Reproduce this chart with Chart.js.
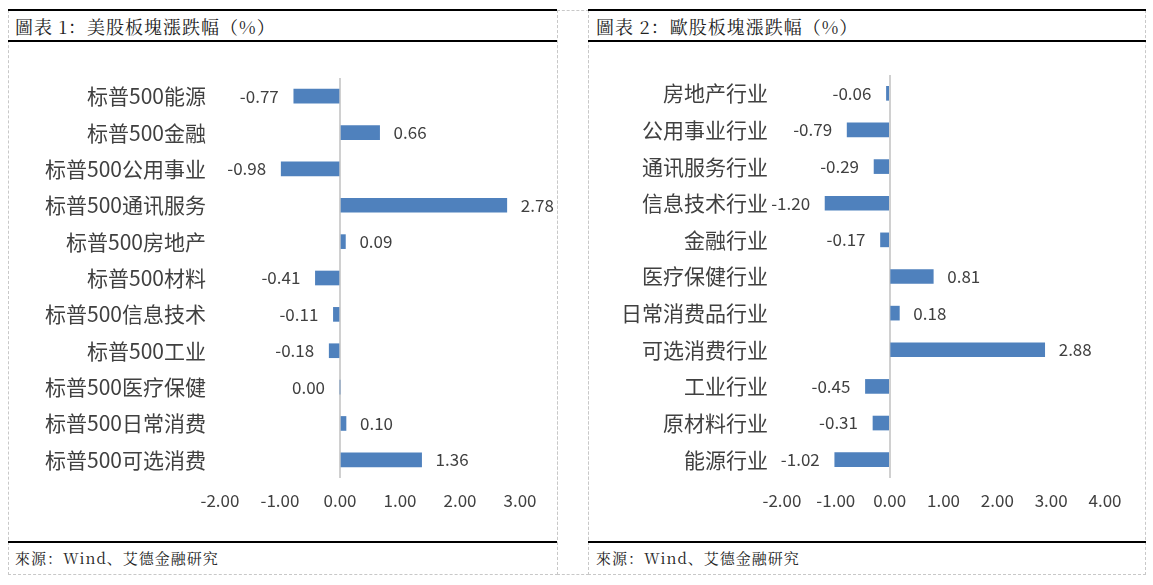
<!DOCTYPE html>
<html><head><meta charset="utf-8">
<script src="https://cdn.jsdelivr.net/npm/chart.js@4"></script>
<style>
body{margin:0;width:1153px;height:585px;background:#fff;position:relative;font-family:"Noto Sans CJK SC";overflow:hidden}
.box{position:absolute;border:1px dashed #c8c8c8;box-sizing:border-box}
.hl{position:absolute;height:2px;background:#000}
.t{position:absolute;font-family:"Noto Serif CJK SC","Noto Sans CJK SC";font-size:18px;color:#222;letter-spacing:1px}
canvas{position:absolute}
</style></head><body>
<div class="box" style="left:8px;top:10px;width:550px;height:565px"></div>
<div class="box" style="left:557px;top:10px;width:32px;height:565px"></div>
<div class="box" style="left:588px;top:10px;width:558px;height:565px"></div>
<div class="hl" style="left:8px;top:9px;width:549px"></div>
<div class="hl" style="left:8px;top:40px;width:549px"></div>
<div class="hl" style="left:8px;top:541px;width:549px"></div>
<div class="hl" style="left:588px;top:9px;width:558px"></div>
<div class="hl" style="left:588px;top:40px;width:558px"></div>
<div class="hl" style="left:588px;top:541px;width:558px"></div>
<div class="t" style="left:15px;top:13px">圖表 1：美股板塊漲跌幅（%）</div>
<div class="t" style="left:596px;top:13px">圖表 2：歐股板塊漲跌幅（%）</div>
<div class="t" style="left:15px;top:547px;font-size:15px">來源：Wind、艾德金融研究</div>
<div class="t" style="left:596px;top:547px;font-size:15px">來源：Wind、艾德金融研究</div>
<canvas id="c1" style="left:8px;top:41px"></canvas>
<canvas id="c2" style="left:588px;top:41px"></canvas>
<script>
const usCategories=["标普500能源","标普500金融","标普500公用事业","标普500通讯服务","标普500房地产","标普500材料","标普500信息技术","标普500工业","标普500医疗保健","标普500日常消费","标普500可选消费"];
const usValues=[-0.77,0.66,-0.98,2.78,0.09,-0.41,-0.11,-0.18,0.00,0.10,1.36];
const usTicks=[-2,-1,0,1,2,3];
const euCategories=["房地产行业","公用事业行业","通讯服务行业","信息技术行业","金融行业","医疗保健行业","日常消费品行业","可选消费行业","工业行业","原材料行业","能源行业"];
const euValues=[-0.06,-0.79,-0.29,-1.20,-0.17,0.81,0.18,2.88,-0.45,-0.31,-1.02];
const euTicks=[-2,-1,0,1,2,3,4];

const labelPlugin={id:'lbl',afterDatasetsDraw(ch){
  const ctx=ch.ctx,meta=ch.getDatasetMeta(0),xs=ch.scales.x;
  ctx.save();ctx.font='17px "Noto Sans CJK SC"';ctx.fillStyle='#404040';ctx.textBaseline='middle';
  meta.data.forEach((b,i)=>{const v=ch.data.datasets[0].data[i];
    if(v>0){ctx.textAlign='left';ctx.fillText(v.toFixed(2),b.x+14,b.y);}
    else{ctx.textAlign='right';ctx.fillText(v.toFixed(2),Math.min(b.x,xs.getPixelForValue(0))-15,b.y);}
  });ctx.restore();}};

function make(id,w,h,cats,vals,ticks,yw,top,right){
  const cv=document.getElementById(id);cv.width=w;cv.height=h;cv.style.width=w+'px';cv.style.height=h+'px';
  new Chart(cv,{type:'bar',data:{labels:cats,datasets:[{data:vals,backgroundColor:'#4f81bd',barThickness:14}]},
   options:{indexAxis:'y',responsive:false,animation:false,devicePixelRatio:1,
    layout:{padding:{top:top,right:right,left:0,bottom:0}},
    plugins:{legend:{display:false},tooltip:{enabled:false}},
    scales:{
     x:{min:ticks[0],max:ticks[ticks.length-1],afterBuildTicks:s=>{s.ticks=ticks.map(v=>({value:v}));},
        afterFit:s=>{s.height=64;},
        grid:{drawTicks:false,color:c=>c.tick&&c.tick.value===0?'#d0d0d0':'rgba(0,0,0,0)',lineWidth:2},
        border:{display:false},
        ticks:{padding:12,maxRotation:0,color:'#404040',font:{size:17,family:'Noto Sans CJK SC'},callback:v=>Number(v).toFixed(2)}},
     y:{afterFit:s=>{s.width=yw;},grid:{display:false},border:{display:false},
        ticks:{padding:6,color:'#404040',font:{size:21,family:'Noto Sans CJK SC'}}}
    }},plugins:[labelPlugin]});
}
make('c1',549,501,usCategories,usValues,usTicks,212,37,37);
make('c2',557,501,euCategories,euValues,euTicks,194,34,40);
</script></body></html>
